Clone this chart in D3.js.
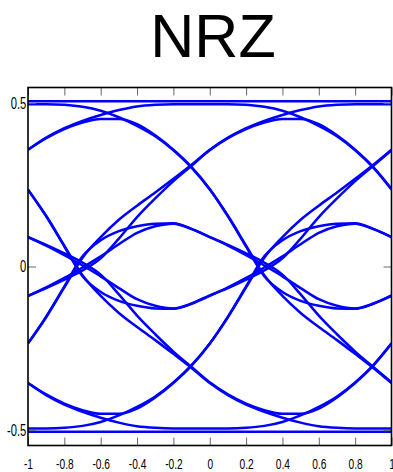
<!DOCTYPE html>
<html>
<head>
<meta charset="utf-8">
<script src="https://cdn.jsdelivr.net/npm/d3@7"></script>
<style>
  body { margin: 0; background: #fff; }
  svg { display: block; font-family: "Liberation Sans", Arial, sans-serif; }
</style>
</head>
<body>
<script>
// x positions of the samples, two bit periods (UI = 1)
const xGrid = [-1, -0.9, -0.8, -0.7, -0.6, -0.5, -0.4, -0.3, -0.2, -0.1, 0,
               0.1, 0.2, 0.3, 0.4, 0.5, 0.6, 0.7, 0.8, 0.9, 1];

// one-period trace shapes read off the eye (11 samples each, x = -1 .. 0)
// upper states: A = 0.5 level, B = rising arc, C = falling edge, D = inner arc
const topAA = [0.505, 0.505, 0.505, 0.505, 0.505, 0.505, 0.505, 0.505, 0.505, 0.505, 0.505];
const topAC = [0.496, 0.496, 0.494, 0.488, 0.476, 0.456, 0.43, 0.398, 0.355, 0.302, 0.235];
const topBA = [0.357, 0.394, 0.423, 0.445, 0.463, 0.478, 0.489, 0.494, 0.496, 0.496, 0.496];
const topBC = [0.357, 0.392, 0.42, 0.44, 0.451, 0.451, 0.435, 0.401, 0.357, 0.304, 0.237];
const topCB = [0.235, 0.155, 0.064, -0.027, -0.09, -0.142, -0.185, -0.225, -0.267, -0.31, -0.356];
const topCD = [0.235, 0.153, 0.061, -0.03, -0.078, -0.105, -0.12, -0.128, -0.129, -0.114, -0.09];
const topDD = [0.09, 0.064, 0.035, 0.003, -0.03, -0.066, -0.1, -0.12, -0.128, -0.113, -0.088];
const topDB = [0.09, 0.066, 0.04, 0.012, -0.025, -0.085, -0.15, -0.207, -0.26, -0.307, -0.354];
// lower states
const botAA = [-0.505, -0.505, -0.505, -0.505, -0.505, -0.505, -0.505, -0.505, -0.505, -0.505, -0.505];
const botAC = [-0.495, -0.495, -0.493, -0.487, -0.475, -0.455, -0.429, -0.397, -0.354, -0.301, -0.235];
const botBA = [-0.356, -0.393, -0.422, -0.444, -0.462, -0.477, -0.488, -0.493, -0.495, -0.495, -0.495];
const botBC = [-0.356, -0.391, -0.419, -0.439, -0.45, -0.45, -0.434, -0.4, -0.356, -0.303, -0.236];
const botCB = [-0.235, -0.155, -0.064, 0.027, 0.09, 0.143, 0.186, 0.226, 0.268, 0.311, 0.357];
const botCD = [-0.235, -0.153, -0.061, 0.031, 0.08, 0.108, 0.123, 0.131, 0.132, 0.115, 0.09];
const botDD = [-0.09, -0.064, -0.035, -0.003, 0.031, 0.068, 0.103, 0.123, 0.131, 0.114, 0.09];
const botDB = [-0.09, -0.066, -0.04, -0.012, 0.025, 0.085, 0.151, 0.208, 0.261, 0.308, 0.355];

const xTicks = [-1, -0.8, -0.6, -0.4, -0.2, 0, 0.2, 0.4, 0.6, 0.8, 1];
const xTickLabels = ["-1", "-0.8", "-0.6", "-0.4", "-0.2", "0", "0.2", "0.4", "0.6", "0.8", "1"];
const yTicks = [-0.5, 0, 0.5];
const yTickLabels = ["-0.5", "0", "0.5"];
const title = "NRZ";

const segments = [
  {from: "A", to: "A", ys: topAA}, {from: "A", to: "C", ys: topAC},
  {from: "B", to: "A", ys: topBA}, {from: "B", to: "C", ys: topBC},
  {from: "C", to: "b", ys: topCB}, {from: "C", to: "d", ys: topCD},
  {from: "D", to: "d", ys: topDD}, {from: "D", to: "b", ys: topDB},
  {from: "a", to: "a", ys: botAA}, {from: "a", to: "c", ys: botAC},
  {from: "b", to: "a", ys: botBA}, {from: "b", to: "c", ys: botBC},
  {from: "c", to: "B", ys: botCB}, {from: "c", to: "D", ys: botCD},
  {from: "d", to: "D", ys: botDD}, {from: "d", to: "B", ys: botDB}
];

// chain each first-period trace with a second-period trace from the same state
const used = new Set();
const traces = segments.map(s => {
  const next = segments.find(n => n.from === s.to && !used.has(n));
  used.add(next);
  return s.ys.map((v, i) => [xGrid[i], v])
    .concat(next.ys.slice(1).map((v, i) => [xGrid[i + 11], v]));
});

const width = 393, height = 472;
const plot = {left: 28, right: 391.5, top: 87.5, bottom: 445.5};

const svg = d3.select("body").append("svg")
  .attr("width", width)
  .attr("height", height);

const x = d3.scaleLinear().domain([-1, 1]).range([plot.left, plot.right]);
const y = d3.scaleLinear().domain([-0.547, 0.547]).range([plot.bottom, plot.top]);

svg.append("text")
  .attr("x", 213)
  .attr("y", 57)
  .attr("text-anchor", "middle")
  .attr("font-size", 61)
  .attr("fill", "#000")
  .text(title);

svg.append("clipPath").attr("id", "clip")
  .append("rect")
  .attr("x", plot.left).attr("y", plot.top)
  .attr("width", plot.right - plot.left).attr("height", plot.bottom - plot.top);

const line = d3.line()
  .x(d => x(d[0]))
  .y(d => y(d[1]))
  .curve(d3.curveMonotoneX);

svg.append("g")
  .attr("clip-path", "url(#clip)")
  .selectAll("path")
  .data(traces)
  .enter().append("path")
  .attr("d", line)
  .attr("fill", "none")
  .attr("stroke", "#0000ff")
  .attr("stroke-width", 2.5)
  .attr("stroke-linejoin", "round");

const styleTicks = g => {
  g.select(".domain").remove();
  g.selectAll(".tick line").attr("stroke", "#666").attr("stroke-width", 1);
};

// bottom axis
svg.append("g")
  .attr("transform", `translate(0,${plot.bottom})`)
  .call(d3.axisBottom(x).tickValues(xTicks).tickSize(-8).tickPadding(12.5)
    .tickFormat((d, i) => xTickLabels[i]))
  .call(styleTicks)
  .call(g => g.selectAll("text")
    .attr("font-size", 15)
    .attr("font-family", "'Liberation Sans', Arial, sans-serif")
    .attr("fill", "#000")
    .attr("transform", "scale(0.68,1)"));

// top axis, ticks only
svg.append("g")
  .attr("transform", `translate(0,${plot.top})`)
  .call(d3.axisTop(x).tickValues(xTicks).tickSize(-8).tickFormat(""))
  .call(styleTicks);

// left axis
svg.append("g")
  .attr("transform", `translate(${plot.left},0)`)
  .call(d3.axisLeft(y).tickValues(yTicks).tickSize(-8).tickPadding(2.5)
    .tickFormat((d, i) => yTickLabels[i]))
  .call(styleTicks)
  .call(g => g.selectAll("text")
    .attr("font-size", 16)
    .attr("font-family", "'Liberation Sans', Arial, sans-serif")
    .attr("fill", "#000")
    .attr("transform", "scale(0.7,1)"));

// right axis, ticks only
svg.append("g")
  .attr("transform", `translate(${plot.right},0)`)
  .call(d3.axisRight(y).tickValues(yTicks).tickSize(-8).tickFormat(""))
  .call(styleTicks);

// frame
svg.append("rect")
  .attr("x", plot.left).attr("y", plot.top)
  .attr("width", plot.right - plot.left).attr("height", plot.bottom - plot.top)
  .attr("fill", "none")
  .attr("stroke", "#000")
  .attr("stroke-width", 1.6);
</script>
</body>
</html>
